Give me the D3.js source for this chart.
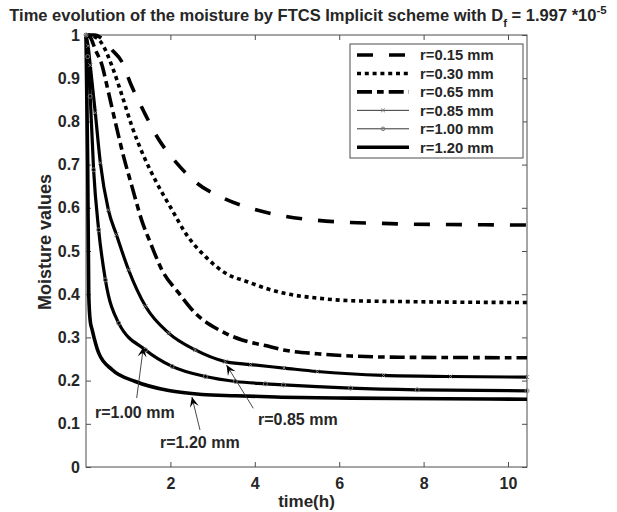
<!DOCTYPE html>
<html><head><meta charset="utf-8">
<script src="https://cdn.jsdelivr.net/npm/d3@7"></script>
<style>
body{margin:0;background:#fff}
text{font-family:"Liberation Sans",Arial,Helvetica,sans-serif;font-weight:bold;fill:#262626}
</style>
</head><body>
<svg id="chart" width="617" height="512"></svg>
<script>
// ---------- data ----------
const seriesLabels = ["r=0.15 mm","r=0.30 mm","r=0.65 mm","r=0.85 mm","r=1.00 mm","r=1.20 mm"];

const timeR015 = [0,0.2,0.4,0.62,0.85,1.05,1.37,1.68,2.12,2.63,3.26,4.05,4.73,5.48,6.27,7.0,7.76,9.0,10.45];
const moistR015 = [1,1,0.99,0.965,0.938,0.889,0.823,0.765,0.707,0.657,0.622,0.595,0.58,0.571,0.566,0.564,0.562,0.561,0.56];

const timeR030 = [0,0.15,0.38,0.62,0.86,1.09,1.37,1.68,2.04,2.36,2.83,3.3,3.85,4.25,4.68,5.48,6.27,7.45,8.64,10.45];
const moistR030 = [1,0.998,0.98,0.927,0.858,0.788,0.719,0.657,0.595,0.541,0.487,0.449,0.428,0.414,0.4025,0.391,0.385,0.383,0.3817,0.3808];

const timeR065 = [0,0.1,0.22,0.38,0.5,0.7,0.89,1.09,1.33,1.53,1.8,2.2,2.59,3.14,3.7,4.25,4.68,5.48,6.27,7.45,8.64,10.45];
const moistR065 = [1,0.995,0.966,0.93,0.881,0.796,0.719,0.649,0.568,0.518,0.456,0.4025,0.356,0.318,0.294,0.281,0.271,0.262,0.257,0.254,0.2535,0.2528];

const timeR085 = [0,0.05,0.1,0.22,0.34,0.53,0.72,1.01,1.41,1.96,2.59,3.3,3.9,4.69,5.48,7.05,8.64,10.45];
const moistR085 = [1,0.975,0.93,0.82,0.704,0.595,0.538,0.456,0.372,0.31,0.271,0.244,0.237,0.229,0.221,0.212,0.2095,0.208];

const timeR100 = [0,0.04,0.1,0.18,0.3,0.46,0.775,1.41,2.04,2.83,3.54,4.25,4.68,6.27,7.85,10.45];
const moistR100 = [1,0.95,0.858,0.688,0.549,0.433,0.333,0.271,0.233,0.2095,0.198,0.1926,0.19,0.1826,0.1787,0.1764];

const timeR120 = [0,0.04,0.065,0.1,0.145,0.3,0.62,1.17,1.96,2.75,3.54,4.5,6.27,8.5,10.45];
const moistR120 = [1,0.7,0.4,0.338,0.318,0.264,0.225,0.198,0.177,0.168,0.165,0.162,0.1595,0.158,0.157];

const xTickValues = [2,4,6,8,10];
const yTickValues = [0,0.1,0.2,0.3,0.4,0.5,0.6,0.7,0.8,0.9,1];
const xDomain = [0,10.45];
const yDomain = [0,1];

// ---------- layout ----------
const svg = d3.select("#chart");
const L = 86, R = 527, T = 35, B = 467;
const x = d3.scaleLinear().domain(xDomain).range([L,R]);
const y = d3.scaleLinear().domain(yDomain).range([B,T]);

const zip = (ts,ms) => ts.map((t,i)=>({t, m: ms[i]}));
const series = [
  {label: seriesLabels[0], data: zip(timeR015,moistR015), dash:"16,16", w:3.6, marker:null},
  {label: seriesLabels[1], data: zip(timeR030,moistR030), dash:"4,3.8", w:3.6, marker:null},
  {label: seriesLabels[2], data: zip(timeR065,moistR065), dash:"15,5,6.7,5", w:3.6, marker:null},
  {label: seriesLabels[3], data: zip(timeR085,moistR085), dash:null, w:3.2, marker:"x"},
  {label: seriesLabels[4], data: zip(timeR100,moistR100), dash:null, w:3.2, marker:"o"},
  {label: seriesLabels[5], data: zip(timeR120,moistR120), dash:null, w:3.6, marker:null}
];

// axes box
svg.append("rect").attr("x",L).attr("y",T).attr("width",R-L).attr("height",B-T)
  .attr("fill","#fff").attr("stroke","#4d4d4d").attr("stroke-width",1);

const styleAxis = g => { g.select(".domain").remove(); g.selectAll(".tick line").attr("stroke","#4d4d4d"); };

svg.append("g").attr("transform",`translate(0,${B})`)
  .call(d3.axisBottom(x).tickValues(xTickValues).tickSizeInner(-5).tickSizeOuter(0).tickPadding(11).tickFormat(d3.format("d")))
  .call(styleAxis)
  .selectAll("text").style("font-size","16px").attr("fill","#262626");
svg.append("g").attr("transform",`translate(0,${T})`)
  .call(d3.axisTop(x).tickValues(xTickValues).tickSizeInner(-5).tickSizeOuter(0).tickFormat(""))
  .call(styleAxis);
svg.append("g").attr("transform",`translate(${L},0)`)
  .call(d3.axisLeft(y).tickValues(yTickValues).tickSizeInner(-5).tickSizeOuter(0).tickPadding(6).tickFormat(d=>d===0?"0":d===1?"1":d3.format(".1f")(d)))
  .call(styleAxis)
  .selectAll("text").style("font-size","16px").attr("fill","#262626");
svg.append("g").attr("transform",`translate(${R},0)`)
  .call(d3.axisRight(y).tickValues(yTickValues).tickSizeInner(-5).tickSizeOuter(0).tickFormat(""))
  .call(styleAxis);

// lines
const line = d3.line().x(d=>x(d.t)).y(d=>y(d.m)).curve(d3.curveMonotoneX);
const gLines = svg.append("g");
series.forEach(s=>{
  gLines.append("path").datum(s.data).attr("d",line)
    .attr("fill","none").attr("stroke","#000").attr("stroke-width",s.w)
    .attr("stroke-dasharray",s.dash).attr("stroke-linejoin","round");
});
// markers
function drawMarker(g, type, cx, cy, size){
  if(type==="o"){
    g.append("circle").attr("cx",cx).attr("cy",cy).attr("r",size)
      .attr("fill","none").attr("stroke","#777").attr("stroke-width",1);
  } else if(type==="x"){
    g.append("path").attr("d",`M${cx-size},${cy-size}L${cx+size},${cy+size}M${cx-size},${cy+size}L${cx+size},${cy-size}`)
      .attr("stroke","#777").attr("stroke-width",1);
  }
}
series.filter(s=>s.marker).forEach(s=>{
  const g = svg.append("g");
  s.data.forEach(d=>drawMarker(g, s.marker, x(d.t), y(d.m), 2));
});

// legend
const lg = svg.append("g");
const LX0 = 350, LY0 = 44, LW = 173, LH = 114;
lg.append("rect").attr("x",LX0).attr("y",LY0).attr("width",LW).attr("height",LH)
  .attr("fill","#fff").attr("stroke","#4d4d4d").attr("stroke-width",1);
series.forEach((s,i)=>{
  const yy = 55 + i*18.45;
  lg.append("line").attr("x1",357).attr("x2",409).attr("y1",yy).attr("y2",yy)
    .attr("stroke","#000").attr("stroke-width", s.marker ? 0.8 : s.w)
    .attr("stroke-dasharray", s.dash);
  if(s.marker) drawMarker(lg, s.marker, 383, yy, 1.8);
  lg.append("text").attr("x",420).attr("y",yy).attr("dy","0.36em")
    .style("font-size","14.8px").attr("fill","#000").text(s.label);
});

// annotations (text arrows)
const annotations = [
  {label:"r=1.00 mm", tip:[1.36,0.278], tail:[136.7,398], text:[95,418]},
  {label:"r=1.20 mm", tip:[2.51,0.162], tail:[200,430], text:[160,448]},
  {label:"r=0.85 mm", tip:[3.33,0.236], tail:[253.3,408.3], text:[258,425]}
];
annotations.forEach(a=>{
  const tx = x(a.tip[0]), ty = y(a.tip[1]);
  const [sx,sy] = a.tail;
  svg.append("line").attr("x1",sx).attr("y1",sy).attr("x2",tx).attr("y2",ty)
    .attr("stroke","#333").attr("stroke-width",0.9);
  const ang = Math.atan2(ty-sy, tx-sx)*180/Math.PI;
  svg.append("path").attr("d","M0,0L-10,-4.5L-6,0L-10,4.5Z")
    .attr("transform",`translate(${tx},${ty}) rotate(${ang})`).attr("fill","#000");
  svg.append("text").attr("x",a.text[0]).attr("y",a.text[1])
    .style("font-size","16px").attr("fill","#000").text(a.label);
});

// axis labels
svg.append("text").attr("x",(L+R)/2).attr("y",507).attr("text-anchor","middle")
  .style("font-size","17px").text("time(h)");
svg.append("text").attr("transform",`translate(51,242) rotate(-90)`).attr("text-anchor","middle")
  .style("font-size","18px").text("Moisture values");

// title
const title = svg.append("text").attr("x",308).attr("y",21).attr("text-anchor","middle")
  .style("font-size","16.5px").attr("fill","#000");
title.append("tspan").text("Time evolution of the moisture by FTCS Implicit scheme with D");
title.append("tspan").attr("dy",6).style("font-size","11.5px").text("f");
title.append("tspan").attr("dy",-6).text(" = 1.997 *10");
title.append("tspan").attr("dy",-7).style("font-size","11.5px").text("-5");
</script>
</body></html>
